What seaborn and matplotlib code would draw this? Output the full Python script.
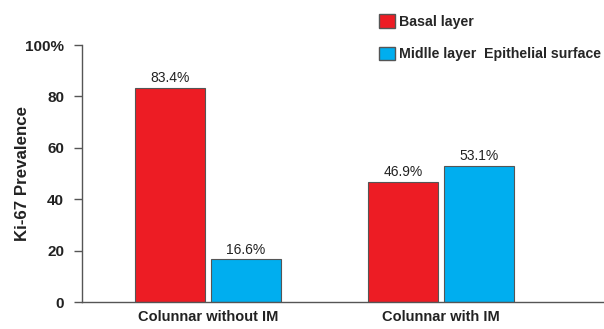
import matplotlib
matplotlib.use("Agg")

import pandas as pd
import matplotlib.pyplot as plt
import seaborn as sns
from matplotlib.patches import Patch

# data
groups = ["Colunnar without IM", "Colunnar with IM"]
layers = ["Basal layer", "Midlle layer  Epithelial surface"]
basal = [83.4, 46.9]
middle = [16.6, 53.1]
y_ticks = [0, 20, 40, 60, 80, 100]
y_tick_labels = ["0", "20", "40", "60", "80", "100%"]

RED = "#ED1C24"
BLUE = "#00AEEF"
EDGE = "#555555"

df = pd.DataFrame({
    "Group": groups * 2,
    "Layer": [layers[0]] * 2 + [layers[1]] * 2,
    "Value": basal + middle,
})

sns.set_style("white")
plt.rcParams["font.family"] = ["Liberation Sans", "DejaVu Sans"]

fig = plt.figure(figsize=(6.04, 3.29), dpi=100)
ax = fig.add_axes([0.136, 0.082, 0.864, 0.781])

sns.barplot(
    data=df, x="Group", y="Value", hue="Layer",
    palette=[RED, BLUE], saturation=1, width=0.65, gap=0.07,
    edgecolor=EDGE, linewidth=0.8, legend=False, ax=ax,
)

# value labels above bars
for cont in ax.containers:
    ax.bar_label(cont, fmt="%.1f%%", padding=2, fontsize=10, color="#222222")

ax.set_xlim(-0.54, 1.70)
ax.set_ylim(0, 100)
ax.set_yticks(y_ticks)
ax.set_yticklabels(y_tick_labels, fontsize=11, fontweight="bold", color="#222222")
ax.set_xticks([0, 1])
ax.set_xticklabels(groups, fontsize=10.5, fontweight="bold", color="#222222")
ax.tick_params(axis="y", direction="out", length=6, width=1, color=EDGE, pad=7, left=True)
ax.tick_params(axis="x", length=0, pad=6)
ax.set_xlabel("")
ax.set_ylabel("Ki-67 Prevalence", fontsize=12.2, fontweight="bold", color="#222222")
ax.yaxis.set_label_coords(-0.1, 0.5)

for side in ["top", "right"]:
    ax.spines[side].set_visible(False)
for side in ["left", "bottom"]:
    ax.spines[side].set_color(EDGE)
    ax.spines[side].set_linewidth(1)

handles = [Patch(facecolor=RED, edgecolor=EDGE), Patch(facecolor=BLUE, edgecolor=EDGE)]
fig.legend(
    handles, layers, loc="upper left", bbox_to_anchor=(0.607, 0.995),
    frameon=False, handlelength=1.1, handleheight=1.1, handletextpad=0.3,
    labelspacing=1.25, prop={"size": 10.2, "weight": "bold"},
)

fig.savefig("out.png", dpi=100)
